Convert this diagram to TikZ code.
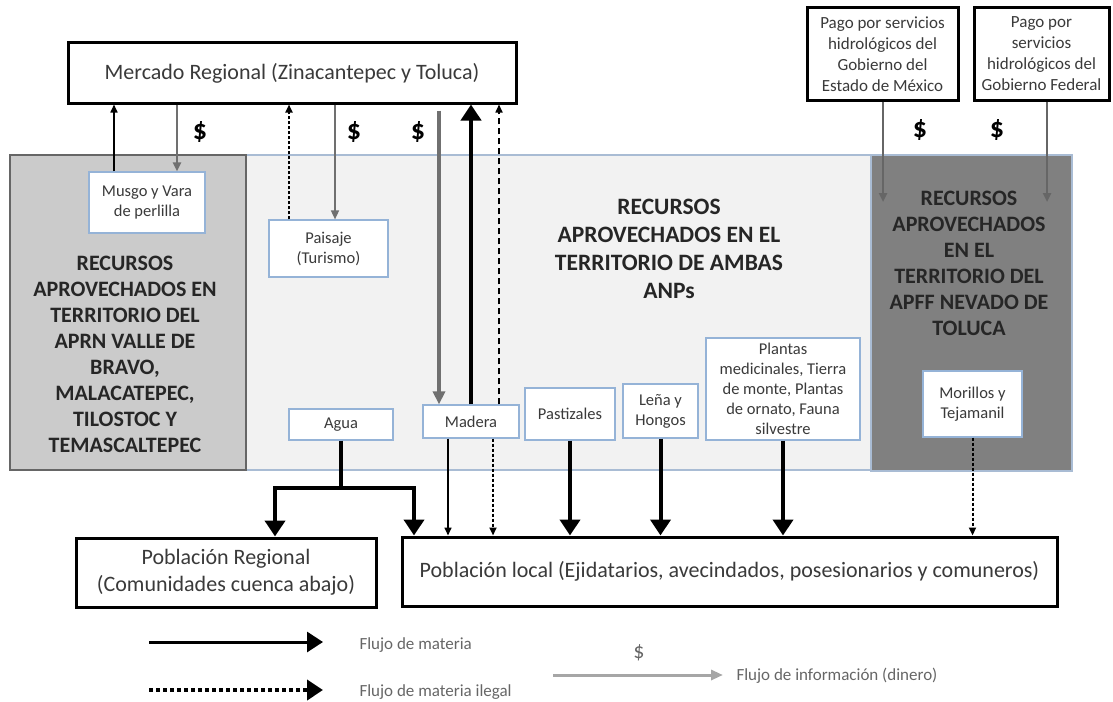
\documentclass[tikz,border=0pt]{standalone}
\usepackage{fontspec}
\setmainfont{Carlito}
\usetikzlibrary{arrows.meta}

\definecolor{boxblue}{HTML}{95B3D7}
\definecolor{zoneblue}{HTML}{A9BCD4}
\definecolor{lightzone}{HTML}{F2F2F2}
\definecolor{leftfill}{HTML}{CBCBCB}
\definecolor{darkfill}{HTML}{808080}
\definecolor{cash}{HTML}{707070}
\definecolor{txt}{HTML}{3A3A3A}

\tikzset{
  zone/.style={line width=1.2pt, inner sep=0pt},
  resource/.style={draw=boxblue, fill=white, line width=1.2pt, inner sep=0pt,
    align=center, text=txt, font=\fontsize{16.5}{20}\selectfont},
  actor/.style={draw=black, fill=white, line width=3pt, inner sep=0pt,
    align=center, text=txt, font=\fontsize{22}{27}\selectfont},
  payer/.style={actor, font=\fontsize{17}{21}\selectfont},
  zonetitle/.style={align=center, text=black!85, font=\bfseries\fontsize{22}{26}\selectfont},
  dollar/.style={font=\bfseries\fontsize{28}{28}\selectfont},
  matflow/.style={line width=4pt, line join=miter, -{Triangle[length=16pt,width=20pt]}},
  thinflow/.style={line width=1.6pt, -{Triangle[length=8pt,width=7pt]}},
  illegal/.style={thinflow, line width=2pt, dash pattern=on 3pt off 2pt},
  illegalbig/.style={thinflow, dash pattern=on 6pt off 4pt},
  cashflow/.style={draw=cash, line width=2.4pt, -{Triangle[length=9pt,width=8pt]}},
  legendtext/.style={anchor=west, text=black!60, font=\fontsize{17}{19}\selectfont}
}

\begin{document}
\begin{tikzpicture}[x=1pt, y=-1pt]
  \useasboundingbox (0,0) rectangle (1113,701);

  % zonas
  \node[zone, draw=zoneblue, fill=lightzone, minimum width=625, minimum height=315] (ambas) at (558.5,312.5) {};
  \node[zone, draw=black!60, fill=leftfill, minimum width=236, minimum height=315] (aprn) at (128,312.5) {};
  \node[zone, draw=zoneblue, fill=darkfill, minimum width=201, minimum height=316] (apff) at (971.5,313) {};

  \node[zonetitle] (aprntitle) at (125,354) {RECURSOS\\APROVECHADOS EN\\TERRITORIO DEL\\APRN VALLE DE\\BRAVO,\\MALACATEPEC,\\TILOSTOC Y\\TEMASCALTEPEC};
  \node[zonetitle, font=\bfseries\fontsize{23.5}{28}\selectfont] (ambastitle) at (669,249) {RECURSOS\\APROVECHADOS EN EL\\TERRITORIO  DE AMBAS\\ANPs};
  \node[zonetitle] (appftitle) at (969,263) {RECURSOS\\APROVECHADOS\\EN EL\\TERRITORIO DEL\\APFF NEVADO DE\\TOLUCA};

  % actores
  \node[actor, minimum width=448, minimum height=60] (mercado) at (292,73) {Mercado Regional (Zinacantepec y Toluca)};
  \node[payer, minimum width=151, minimum height=92] (pago1) at (882.5,54) {Pago por servicios\\hidrológicos  del\\Gobierno del\\Estado de México};
  \node[payer, minimum width=135, minimum height=92] (pago2) at (1041.5,54) {Pago por\\servicios\\hidrológicos  del\\Gobierno Federal};
  \node[actor, minimum width=300, minimum height=69] (pobreg) at (226,572.5) {Población Regional\\(Comunidades cuenca abajo)};
  \node[actor, minimum width=655, minimum height=69] (poblocal) at (729.5,571.5) {Población local (Ejidatarios, avecindados, posesionarios y comuneros)};

  % recursos
  \node[resource, minimum width=116, minimum height=61] (musgo) at (147,202.5) {Musgo y Vara\\de perlilla};
  \node[resource, minimum width=119, minimum height=57] (paisaje) at (328.5,248.5) {Paisaje\\(Turismo)};
  \node[resource, minimum width=104, minimum height=31] (agua) at (341,424.5) {Agua};
  \node[resource, minimum width=96, minimum height=33] (madera) at (471,421.5) {Madera};
  \node[resource, minimum width=90, minimum height=52] (pastizales) at (570,414) {Pastizales};
  \node[resource, minimum width=75, minimum height=54] (lena) at (660.5,411) {Leña y\\Hongos};
  \node[resource, minimum width=154, minimum height=102] (plantas) at (783,389) {Plantas\\medicinales, Tierra\\de monte, Plantas\\de ornato, Fauna\\silvestre};
  \node[resource, minimum width=99, minimum height=66] (morillos) at (972.5,404) {Morillos y\\Tejamanil};

  % flujos hacia el mercado
  \draw[thinflow] (114,0 |- musgo.north) -- (114,0 |- mercado.south);
  \draw[cashflow] (177,0 |- mercado.south) -- (177,0 |- musgo.north);
  \draw[illegal] (289,0 |- paisaje.north) -- (289,0 |- mercado.south);
  \draw[cashflow, line width=1.6pt] (335,0 |- mercado.south) -- (335,0 |- paisaje.north);
  \draw[cashflow, line width=3.2pt, shorten <=6pt, -{Triangle[length=13pt,width=12pt]}] (439,0 |- mercado.south) -- (439,0 |- madera.north);
  \draw[matflow] (madera.north) -- (madera.north |- mercado.south);
  \draw[illegalbig] (499,0 |- madera.north) -- (499,0 |- mercado.south);

  \node[dollar] (d1) at (200,132) {\$};
  \node[dollar] (d2) at (354,132) {\$};
  \node[dollar] (d3) at (418,132) {\$};
  \node[dollar] (d4) at (920,130) {\$};
  \node[dollar] (d5) at (997,130) {\$};

  % pagos
  \coordinate (pagoin1) at (883,202);
  \coordinate (pagoin2) at (1047,202);
  \draw[cashflow, draw=black!60] (pagoin1 |- pago1.south) -- (pagoin1);
  \draw[cashflow, draw=black!60] (pagoin2 |- pago2.south) -- (pagoin2);

  % flujos hacia la poblacion
  \draw[line width=4pt] (agua.south) -- ++(0,47) coordinate (split);
  \draw[matflow] ([xshift=2pt]split) -| (275,0 |- pobreg.north);
  \draw[matflow] ([xshift=-2pt]split) -| (414,0 |- poblocal.north);
  \draw[thinflow] (448,0 |- madera.south) -- (448,0 |- poblocal.north);
  \draw[illegal] (493,0 |- madera.south) -- (493,0 |- poblocal.north);
  \draw[matflow] (pastizales.south) -- (pastizales.south |- poblocal.north);
  \draw[matflow] (lena.south) -- (lena.south |- poblocal.north);
  \draw[matflow] (plantas.south) -- (plantas.south |- poblocal.north);
  \draw[illegal] (morillos.south) -- (morillos.south |- poblocal.north);

  % leyenda
  \coordinate (leg1a) at (149,642);
  \coordinate (leg1b) at (323,642);
  \coordinate (leg2a) at (149,690);
  \coordinate (leg2b) at (323,690);
  \coordinate (leg3a) at (553,675);
  \coordinate (leg3b) at (723,675);
  \draw[matflow, line width=3pt] (leg1a) -- (leg1b);
  \draw[matflow, line width=4pt, dash pattern=on 4pt off 3pt] (leg2a) -- (leg2b);
  \draw[cashflow, draw=black!35, line width=3pt, -{Triangle[length=12pt,width=10pt]}] (leg3a) -- (leg3b);
  \node[legendtext] (leg1) at (356,645) {Flujo de materia};
  \node[legendtext] (leg2) at (356,692) {Flujo de materia  ilegal};
  \node[legendtext] (leg3) at (733,676) {Flujo de información  (dinero)};
  \node[font=\fontsize{22}{22}\selectfont, text=black!60] (d6) at (639,653) {\$};
\end{tikzpicture}
\end{document}
